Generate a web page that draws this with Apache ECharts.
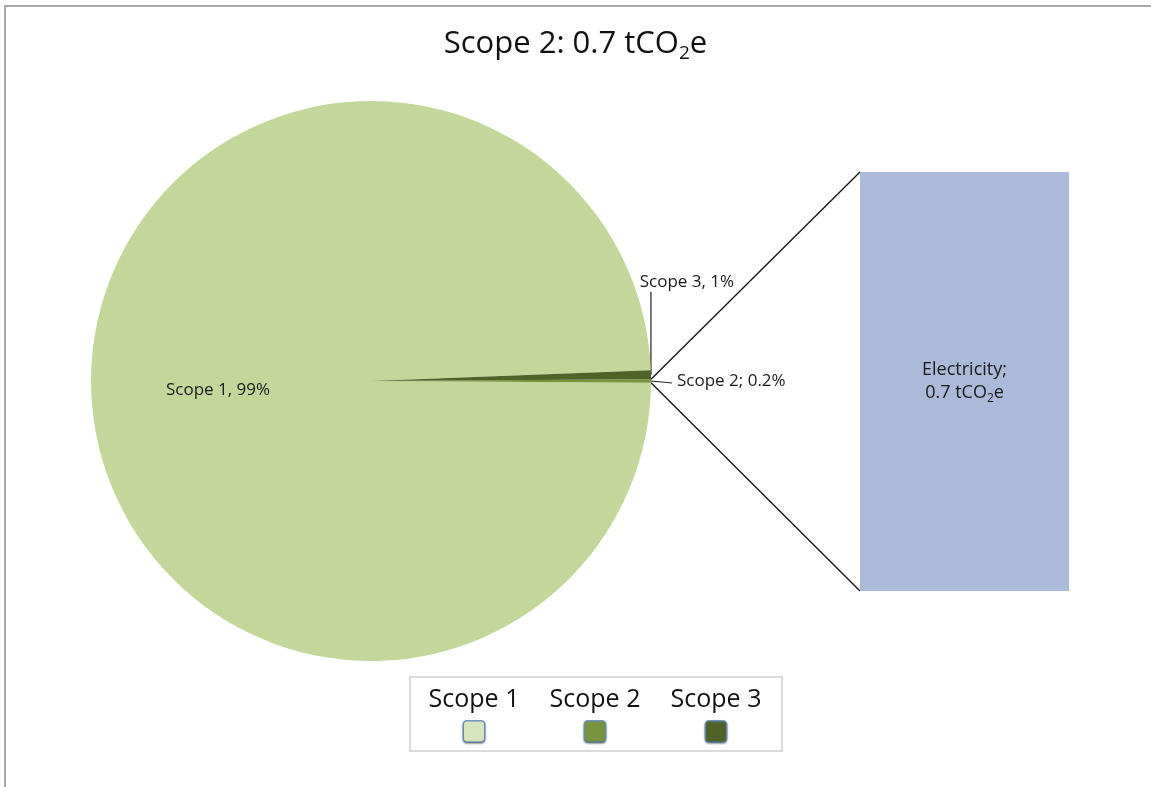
<!DOCTYPE html>
<html><head><meta charset="utf-8">
<script src="https://cdn.jsdelivr.net/npm/echarts@6/dist/echarts.min.js"></script>
<style>html,body{margin:0;padding:0;background:#fff}#c{width:1151px;height:787px}</style>
</head><body><div id="c"></div>
<script>
// ---- data ----
const pieCategories = ['Scope 1', 'Scope 2', 'Scope 3'];
const pieValues = [347, 0.7, 1.8];
const pieLabels = ['Scope 1, 99%', 'Scope 2; 0.2%', 'Scope 3, 1%'];
const barCategories = ['Electricity'];
const barValues = [0.7];
const barLabels = ['Electricity;\n0.7 tCO{sub|2}e'];
const titleText = 'Scope 2: 0.7 tCO{sub|2}e';

// ---- styles / layout ----
const pieColors = ['#c4d79b', '#77933c', '#4f6228'];
const legendColors = ['#d7e4bd', '#77933c', '#4f6228'];
const barColor = '#abbad8';
const FONT = 'Open Sans';
const PIE_C = [371, 381], PIE_R = 280;

const total = pieValues.reduce((a, b) => a + b, 0);
// split-off slice (Scope 2) centred on 3 o'clock, Scope 3 just above it
const startAngle = (pieValues[1] / 2 + pieValues[2]) / total * 360;

const swatch = c => ({width: 20, height: 20, backgroundColor: c, borderColor: '#6f95c6', borderWidth: 1.5,
  borderRadius: 3, align: 'center', lineHeight: 30, shadowBlur: 2, shadowColor: 'rgba(0,0,0,0.35)', shadowOffsetY: 1});

const chart = echarts.init(document.getElementById('c'), null, {renderer: 'canvas'});
const option = {
  animation: false,
  backgroundColor: '#fff',
  title: {
    text: titleText, left: 'center', top: 21,
    textStyle: {fontFamily: FONT, fontSize: 31, fontWeight: 'normal', color: '#111', lineHeight: 37,
      rich: {sub: {fontFamily: FONT, fontSize: 19, color: '#111', verticalAlign: 'bottom', lineHeight: 12}}}
  },
  legend: {
    data: pieCategories, orient: 'horizontal', left: 410, top: 677,
    icon: 'none', itemWidth: 0, itemHeight: 0, itemGap: 16,
    padding: [10, 16, 7, 9], borderColor: '#d0d0d0', borderWidth: 1.5, selectedMode: false,
    formatter: name => '{t|' + name + '}\n{s' + pieCategories.indexOf(name) + '|}',
    textStyle: {
      fontFamily: FONT, fontSize: 25, color: '#111',
      rich: {
        t: {fontFamily: FONT, fontSize: 25, color: '#111', width: 100, align: 'center', lineHeight: 34},
        s0: swatch(legendColors[0]), s1: swatch(legendColors[1]), s2: swatch(legendColors[2])
      }
    }
  },
  grid: {left: 860, top: 172, width: 209, height: 419},
  xAxis: {type: 'category', data: barCategories, show: false},
  yAxis: {type: 'value', min: 0, max: barValues.reduce((a, b) => a + b, 0), show: false},
  graphic: [
    {type: 'line', id: 'frameTop', shape: {x1: 4, y1: 6, x2: 1151, y2: 6}, style: {stroke: '#a8a8a8', lineWidth: 2}, silent: true},
    {type: 'line', id: 'frameLeft', shape: {x1: 5, y1: 5, x2: 5, y2: 787}, style: {stroke: '#a8a8a8', lineWidth: 2}, silent: true}
  ],
  series: [
    {
      type: 'pie', center: PIE_C, radius: [0, PIE_R], startAngle: startAngle, clockwise: false,
      avoidLabelOverlap: false, silent: true, legendHoverLink: false,
      itemStyle: {borderWidth: 0},
      data: pieCategories.map((n, i) => ({
        name: n, value: pieValues[i], itemStyle: {color: pieColors[i]},
        label: i === 0 ? {position: 'inner'} : {position: 'outside'},
        labelLine: i === 0 ? {show: false} : {show: true}
      })),
      label: {show: true, formatter: p => pieLabels[p.dataIndex], fontFamily: FONT, fontSize: 17, color: '#1a1a1a'},
      labelLine: {length: 10, length2: 10, lineStyle: {color: '#222', width: 1.2}},
      labelLayout: function (p) {
        if (p.dataIndex === 0) {
          return {x: PIE_C[0] - 153, y: PIE_C[1] + 9, align: 'center', verticalAlign: 'middle'};
        }
        let e = p.labelLinePoints && p.labelLinePoints[0];
        if (!e) {
          let acc = startAngle;
          for (let k = 0; k < p.dataIndex; k++) acc += pieValues[k] / total * 360;
          const mid = (acc + pieValues[p.dataIndex] / total * 180) * Math.PI / 180;
          e = [PIE_C[0] + PIE_R * Math.cos(mid), PIE_C[1] - PIE_R * Math.sin(mid)];
        }
        e = [e[0], e[1]];
        if (p.dataIndex === 2) {
          return {x: e[0] + 36, y: e[1] - 93, align: 'center', verticalAlign: 'middle',
            labelLinePoints: [[e[0], e[1]], [e[0], e[1] - 83], [e[0], e[1] - 83]]};
        }
        return {x: e[0] + 26, y: e[1], align: 'left', verticalAlign: 'middle',
          labelLinePoints: [[e[0], e[1]], [e[0] + 21, e[1] + 2], [e[0] + 21, e[1] + 2]]};
      }
    },
    {
      type: 'bar', data: barValues, barWidth: '100%', silent: true,
      itemStyle: {color: barColor},
      label: {show: true, position: 'inside', formatter: p => barLabels[p.dataIndex],
        fontFamily: FONT, fontSize: 18, color: '#1a1a1a', lineHeight: 23,
        rich: {sub: {fontFamily: FONT, fontSize: 12, color: '#1a1a1a', verticalAlign: 'bottom', lineHeight: 10}}}
    }
  ]
};
chart.setOption(option);

// connector lines from the split-off slice to the bar
(function () {
  let up, lo;
  const pd = chart.getModel().getSeriesByIndex(0).getData();
  const L = pd.getItemLayout(1);
  if (L && L.r != null) {
    const a = [L.cx + L.r * Math.cos(L.startAngle), L.cy + L.r * Math.sin(L.startAngle)];
    const b = [L.cx + L.r * Math.cos(L.endAngle), L.cy + L.r * Math.sin(L.endAngle)];
    up = a[1] < b[1] ? a : b; lo = a[1] < b[1] ? b : a;
  } else {
    const h = pieValues[1] / total * Math.PI;
    up = [PIE_C[0] + PIE_R * Math.cos(h), PIE_C[1] - PIE_R * Math.sin(h)];
    lo = [PIE_C[0] + PIE_R * Math.cos(h), PIE_C[1] + PIE_R * Math.sin(h)];
  }
  const bd = chart.getModel().getSeriesByIndex(1).getData();
  const B = bd.getItemLayout(0);
  const bx = B.x, top = Math.min(B.y, B.y + B.height), bot = Math.max(B.y, B.y + B.height);
  chart.setOption({graphic: [
    {type: 'line', id: 'connTop', shape: {x1: up[0], y1: up[1], x2: bx, y2: top}, style: {stroke: '#111', lineWidth: 1.3}, silent: true},
    {type: 'line', id: 'connBot', shape: {x1: lo[0], y1: lo[1], x2: bx, y2: bot}, style: {stroke: '#111', lineWidth: 1.3}, silent: true}
  ]});
})();
</script>
</body></html>
